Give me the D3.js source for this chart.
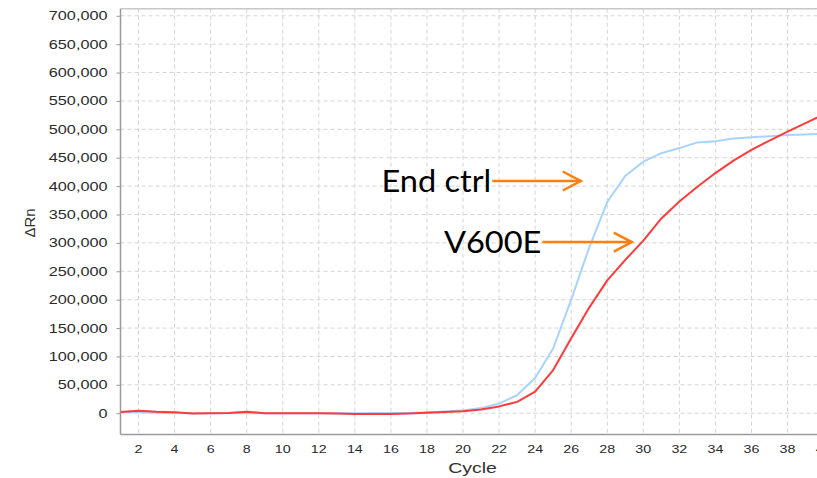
<!DOCTYPE html>
<html>
<head>
<meta charset="utf-8">
<script src="https://cdn.jsdelivr.net/npm/d3@7/dist/d3.min.js"></script>
<style>
  html, body { margin: 0; padding: 0; background: #fff; }
  svg { display: block; }
</style>
</head>
<body>
<svg id="chart" width="817" height="478"></svg>
<script>
// PCR cycles and amplification (ΔRn) for the two assays
const cycles = [1, 2, 3, 4, 5, 6, 7, 8, 9, 10, 11, 12, 13, 14, 15, 16, 17, 18, 19, 20,
                21, 22, 23, 24, 25, 26, 27, 28, 29, 30, 31, 32, 33, 34, 35, 36, 37, 38, 39, 40];

const endCtrl = [2000, 1500, 1000, 500, 0, 0, 0, 0, 0, 0, 0, 0, 0, 0, 500, 500, 500, 1500, 3000, 5000,
                 9000, 17000, 32000, 62000, 114000, 200000, 292000, 372000, 418000, 443000,
                 458000, 467000, 477000, 479000, 484000, 486000, 488000, 490000, 491000, 492000];

const v600e = [2000, 4500, 2500, 1500, -500, 0, 500, 2500, 0, 0, 0, 0, -500, -1500, -1500, -1500, -500, 1000, 2000, 3500,
               6500, 12000, 20000, 38000, 76000, 132000, 186000, 234000, 270000, 304000,
               343000, 373000, 399000, 423000, 445000, 464000, 480000, 496000, 511000, 526000];

const xTicks = [2, 4, 6, 8, 10, 12, 14, 16, 18, 20, 22, 24, 26, 28, 30, 32, 34, 36, 38, 40];
const yTicks = [0, 50000, 100000, 150000, 200000, 250000, 300000, 350000, 400000,
                450000, 500000, 550000, 600000, 650000, 700000];

// Callout labels: text, arrow start cycle, arrow end cycle, ΔRn level of the arrow
const callouts = [
  { label: "End ctrl", from: 21.62, to: 26.53, value: 409000 },
  { label: "V600E",    from: 24.4,  to: 29.36, value: 301500 }
];

const series = [
  { name: "End ctrl", values: endCtrl, color: "#a9d3ff" },
  { name: "V600E",    values: v600e,   color: "#ff3a3a" }
];

const svg = d3.select("#chart");
const plot = { left: 120.5, top: 8.7, bottom: 434.5, right: 823.6 };
const textStretch = 1.3;   // axis lettering is drawn horizontally widened
const calloutStretch = 1.05;

const x = d3.scaleLinear().domain([1, 40]).range([plot.left, plot.right]);
const y = d3.scaleLinear().domain([-37500, 712500]).range([plot.bottom, plot.top]);

// Dashed grid
const grid = svg.append("g");
grid.selectAll("line.gx").data(xTicks).join("line")
  .attr("x1", d => x(d)).attr("x2", d => x(d))
  .attr("y1", plot.top).attr("y2", plot.bottom)
  .attr("stroke", "#d4d4d4").attr("stroke-width", 1).attr("stroke-dasharray", "4,3");
grid.selectAll("line.gy").data(yTicks).join("line")
  .attr("x1", plot.left).attr("x2", 817)
  .attr("y1", d => y(d)).attr("y2", d => y(d))
  .attr("stroke", "#d4d4d4").attr("stroke-width", 1).attr("stroke-dasharray", "4,3");

// Top frame line
svg.append("line")
  .attr("x1", plot.left).attr("x2", 817)
  .attr("y1", plot.top).attr("y2", plot.top)
  .attr("stroke", "#c8c8c8").attr("stroke-width", 1.5);

// Axes
const yAxis = d3.axisLeft(y).tickValues(yTicks).tickSize(4).tickPadding(9)
  .tickFormat(d3.format(","));
const gy = svg.append("g").attr("transform", `translate(${plot.left},0)`).call(yAxis);
gy.select(".domain").attr("stroke", "#9a9a9a").attr("stroke-width", 1.5)
  .attr("d", `M0,${plot.top}V${plot.bottom}`);
gy.selectAll(".tick line").attr("stroke", "#9a9a9a");
gy.selectAll(".tick text")
  .attr("font-family", "'Liberation Sans', Arial, sans-serif")
  .attr("font-size", 12.5).attr("fill", "#2a2a2a")
  .attr("x", -13 / textStretch)
  .attr("transform", `scale(${textStretch},1)`);

const xAxis = d3.axisBottom(x).tickValues(xTicks).tickSize(0).tickPadding(11)
  .tickFormat(d3.format("d"));
const gx = svg.append("g").attr("transform", `translate(0,${plot.bottom})`).call(xAxis);
gx.select(".domain").attr("stroke", "#9a9a9a").attr("stroke-width", 1.5)
  .attr("d", `M${plot.left},0H817`);
gx.selectAll(".tick text")
  .attr("font-family", "'Liberation Sans', Arial, sans-serif")
  .attr("font-size", 11).attr("fill", "#2a2a2a")
  .attr("transform", `scale(${textStretch},1)`);
gx.selectAll(".tick").attr("transform", d => `translate(${x(d)},0)`);

// Axis titles
svg.append("text")
  .attr("transform", `translate(472.5,473) scale(${textStretch},1)`)
  .attr("text-anchor", "middle")
  .attr("font-family", "'Liberation Sans', Arial, sans-serif")
  .attr("font-size", 15).attr("fill", "#333")
  .text("Cycle");

svg.append("text")
  .attr("transform", `translate(35,223) rotate(-90)`)
  .attr("text-anchor", "middle")
  .attr("font-family", "'Liberation Sans', Arial, sans-serif")
  .attr("font-size", 15).attr("fill", "#333")
  .text("ΔRn");

// Amplification curves
const line = d3.line()
  .x((d, i) => x(cycles[i]))
  .y(d => y(d));

svg.append("defs").append("clipPath").attr("id", "plotClip")
  .append("rect").attr("x", plot.left).attr("y", plot.top)
  .attr("width", plot.right - plot.left).attr("height", plot.bottom - plot.top);

svg.append("g").attr("clip-path", "url(#plotClip)")
  .selectAll("path").data(series).join("path")
  .attr("d", d => line(d.values))
  .attr("fill", "none")
  .attr("stroke", d => d.color)
  .attr("stroke-width", 2)
  .attr("stroke-linejoin", "round");

// Callouts with open arrowheads
const orange = "#ff7f0e";
const cg = svg.append("g");
callouts.forEach(c => {
  const x0 = x(c.from), x1 = x(c.to), yy = y(c.value);
  cg.append("line")
    .attr("x1", x0).attr("x2", x1).attr("y1", yy).attr("y2", yy)
    .attr("stroke", orange).attr("stroke-width", 2.5);
  cg.append("path")
    .attr("d", `M${x1 - 18},${yy - 9.5}L${x1},${yy}L${x1 - 18},${yy + 9.5}`)
    .attr("fill", "none").attr("stroke", orange).attr("stroke-width", 2.5)
    .attr("stroke-linejoin", "miter");
  cg.append("text")
    .attr("transform", `translate(${x0 - 1},${yy + 10.5}) scale(${calloutStretch},1)`)
    .attr("text-anchor", "end")
    .attr("font-family", "Lato, 'Open Sans', sans-serif")
    .attr("font-size", 31).attr("fill", "#000")
    .text(c.label);
});
</script>
</body>
</html>
